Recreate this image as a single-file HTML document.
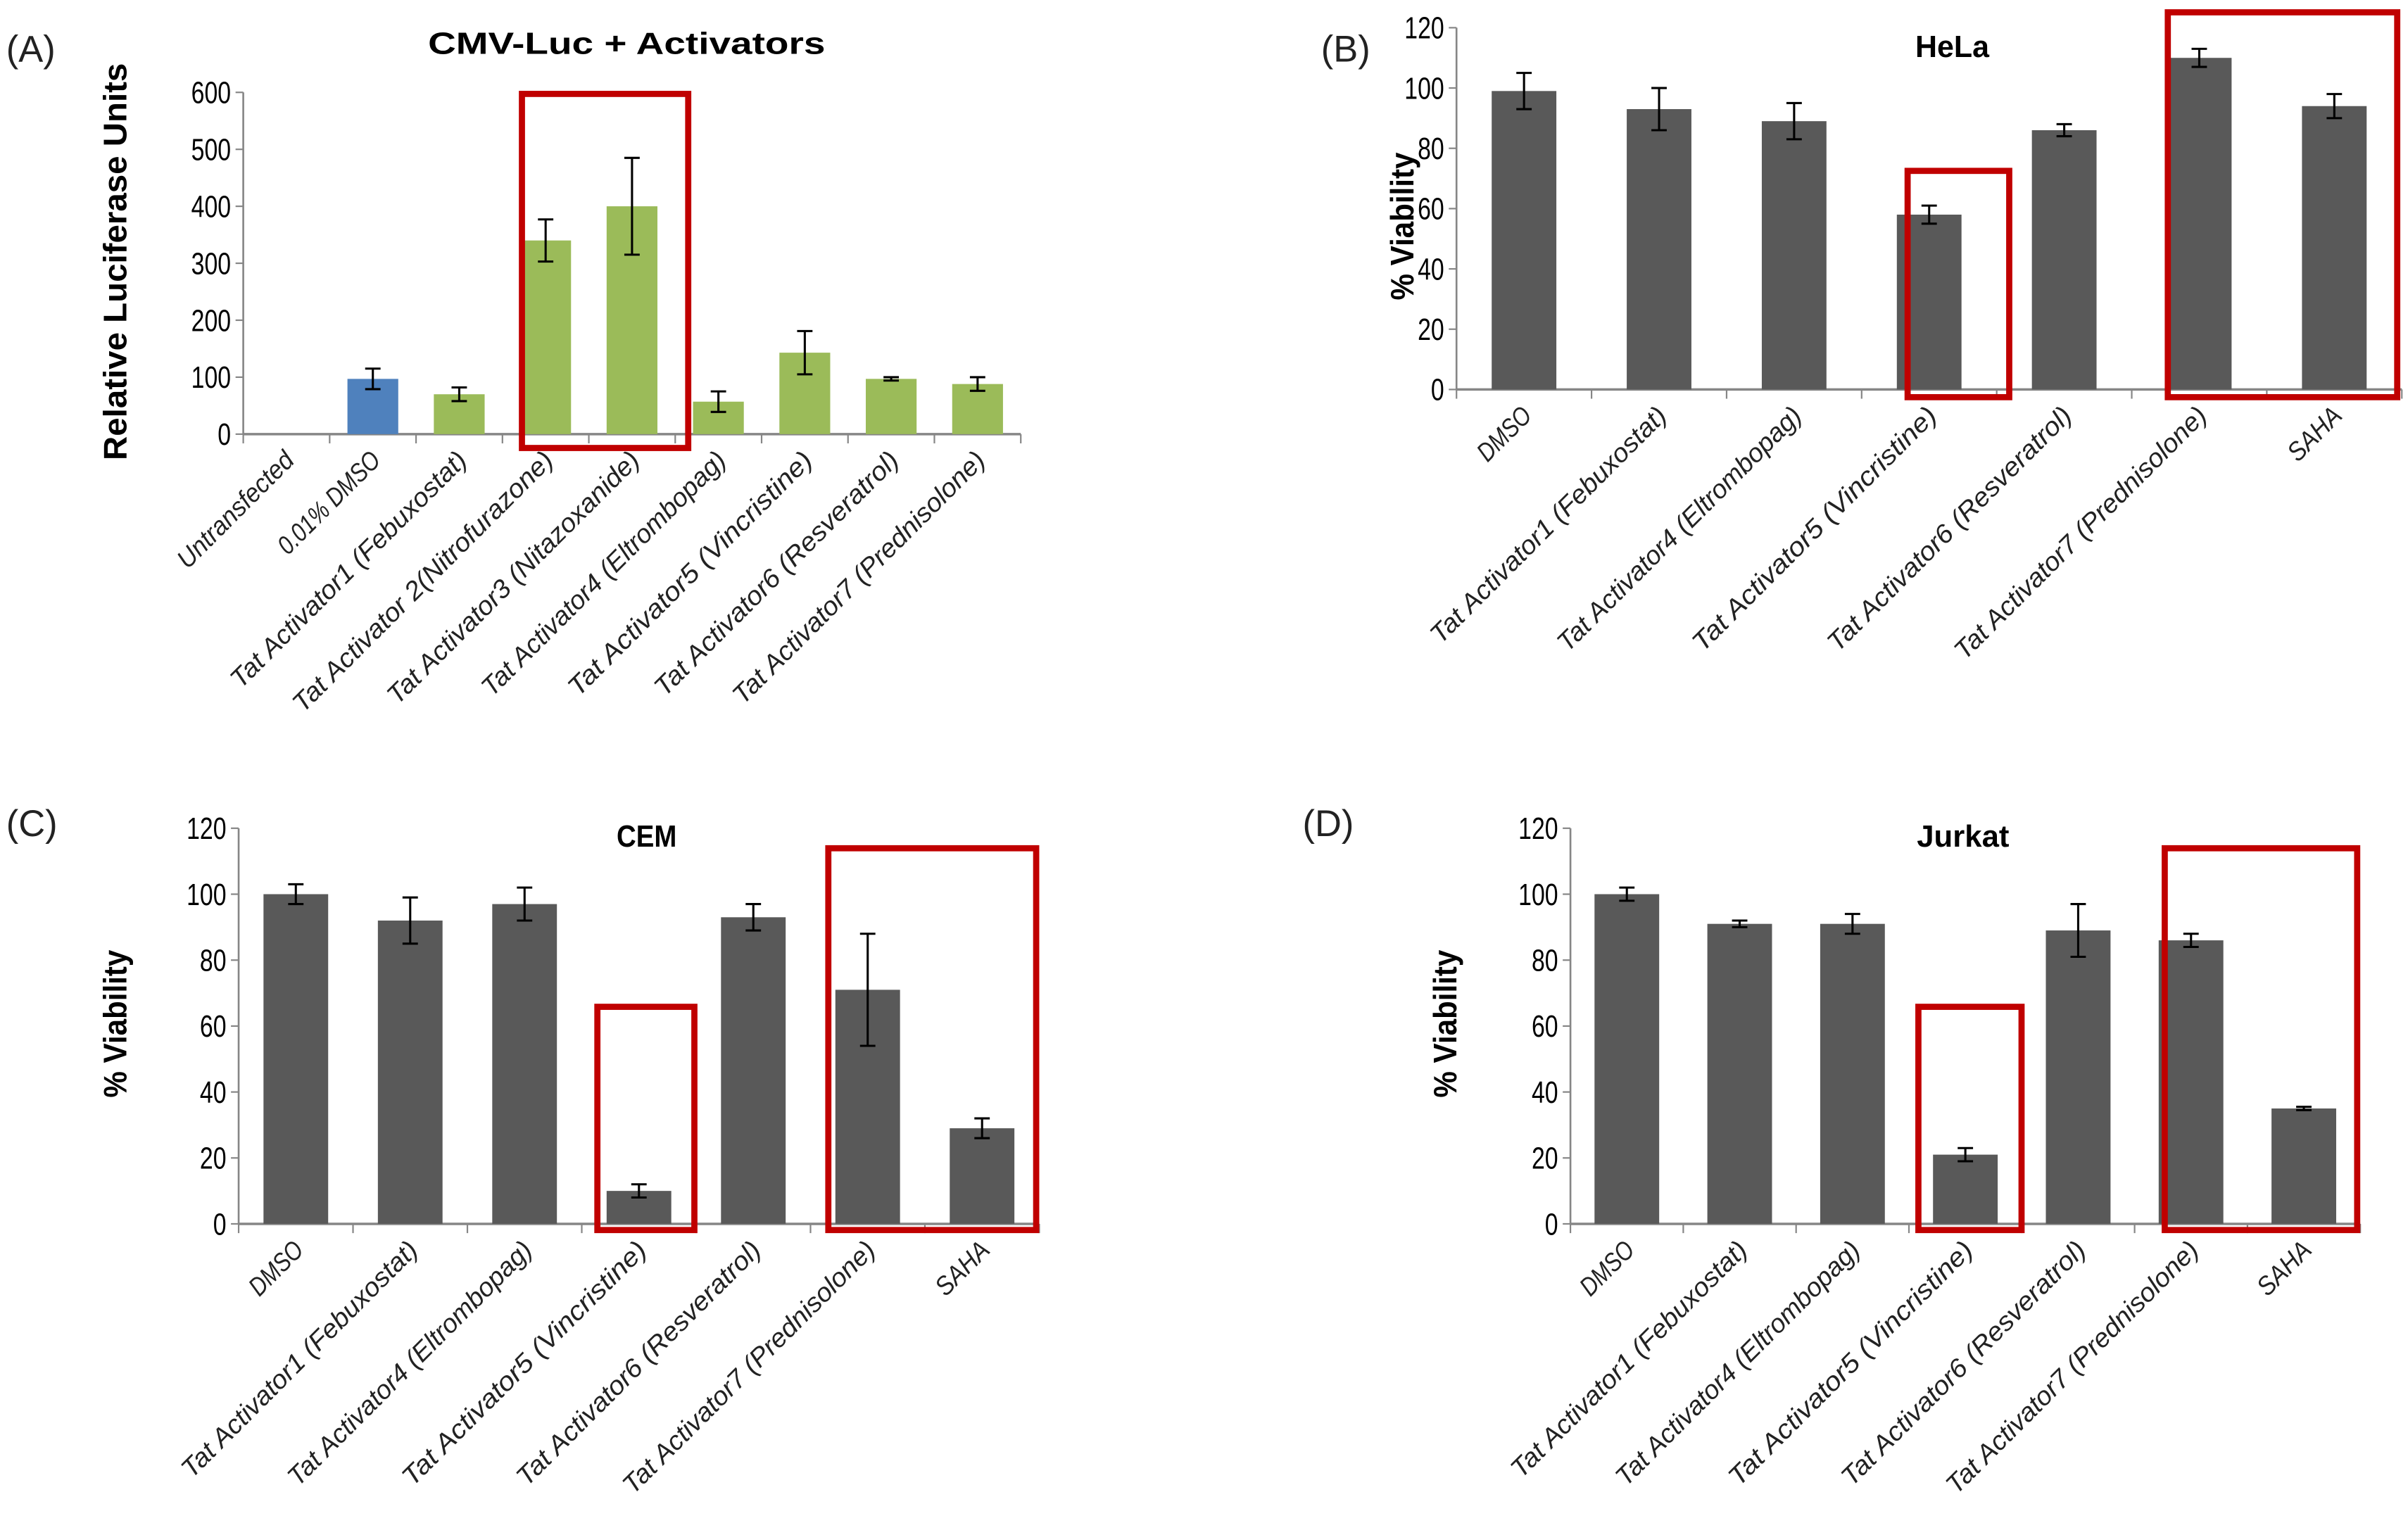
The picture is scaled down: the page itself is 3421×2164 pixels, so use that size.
<!DOCTYPE html>
<html><head><meta charset="utf-8">
<style>
html,body{margin:0;padding:0;background:#fff;}
svg{display:block;}
text{font-family:"Liberation Sans",sans-serif;}
</style></head>
<body>
<svg id="fig" width="3421" height="2164" viewBox="0 0 1564 989.3" preserveAspectRatio="none" xmlns="http://www.w3.org/2000/svg"></svg>
<script>
// Panel A data
const catsA = ["Untransfected","0.01% DMSO","Tat Activator1 (Febuxostat)","Tat Activator 2(Nitrofurazone)","Tat Activator3 (Nitazoxanide)","Tat Activator4 (Eltrombopag)","Tat Activator5 (Vincristine)","Tat Activator6 (Resveratrol)","Tat Activator7 (Prednisolone)"];
const valsA = [0,97,70,340,400,57,143,97,88];
const errA = [0,18,12,37,85,18,38,3,12];
const ticksA = [0,100,200,300,400,500,600];
// Viability panels
const catsV = ["DMSO","Tat Activator1 (Febuxostat)","Tat Activator4 (Eltrombopag)","Tat Activator5 (Vincristine)","Tat Activator6 (Resveratrol)","Tat Activator7 (Prednisolone)","SAHA"];
const valsB = [99,93,89,58,86,110,94];
const errB = [6,7,6,3,2,3,4];
const valsC = [100,92,97,10,93,71,29];
const errC = [3,7,5,2,4,17,3];
const valsD = [100,91,91,21,89,86,35];
const errD = [2,1,3,2,8,2,0.5];
const ticksV = [0,20,40,60,80,100,120];

const NS="http://www.w3.org/2000/svg";
const svg=document.getElementById('fig');
function mk(tag,attrs,parent){const e=document.createElementNS(NS,tag);for(const k in attrs)e.setAttribute(k,attrs[k]);(parent||svg).appendChild(e);return e;}
function labLen(s){let L=0;for(const ch of s){L+=/[A-Z]/.test(ch)?10.5:7.4;}return L;}

function panel(cfg){
  const g=mk('g',{});
  
  
  const {x0,x1,yTop,yBot,max,cats,vals,errs,ticks,bw}=cfg;
  const n=cats.length, band=(x1-x0)/n;
  const ys=v=>yBot-(v/max)*(yBot-yTop);
  const xc=i=>x0+band*(i+0.5);
  const ya=mk('line',{x1:x0,y1:yTop,x2:x0,y2:yBot,stroke:'#868686','stroke-width':1.2},g);
  
  
  const xa=mk('line',{x1:x0,y1:yBot,x2:x1,y2:yBot,stroke:'#868686','stroke-width':1.6},g);
  
  
  ticks.forEach(t=>{
    mk('line',{x1:x0-5,y1:ys(t),x2:x0,y2:ys(t),stroke:'#868686','stroke-width':1},g);
    const s=String(t);
    const tl=mk('text',{x:x0-8,y:ys(t)+7,'text-anchor':'end','font-size':20,fill:'#000',textLength:s.length*8.6,lengthAdjust:'spacingAndGlyphs'},g);
    tl.textContent=s;
    
    
  });
  for(let i=0;i<=n;i++) mk('line',{x1:x0+band*i,y1:yBot,x2:x0+band*i,y2:yBot+6,stroke:'#868686','stroke-width':1},g);
  cats.forEach((c,i)=>{
    const cx=xc(i);
    if(vals[i]>0){
      const b=mk('rect',{x:cx-bw/2,y:ys(vals[i]),width:bw,height:yBot-ys(vals[i]),fill:cfg.colors?cfg.colors[i]:'#595959'},g);
      
      
      const e=errs[i];
      const eg=mk('g',{stroke:'#000','stroke-width':1.4},g);
      
      
      mk('line',{x1:cx,y1:ys(vals[i]+e),x2:cx,y2:ys(vals[i]-e)},eg);
      mk('line',{x1:cx-5,y1:ys(vals[i]+e),x2:cx+5,y2:ys(vals[i]+e)},eg);
      mk('line',{x1:cx-5,y1:ys(vals[i]-e),x2:cx+5,y2:ys(vals[i]-e)},eg);
    }
    const lx=cx+6, ly=yBot+18;
    const t=mk('text',{x:lx,y:ly,'text-anchor':'end','font-size':17,'font-style':'italic',fill:'#222',textLength:labLen(c),lengthAdjust:'spacingAndGlyphs',transform:`rotate(-45 ${lx} ${ly})`},g);
    t.textContent=c;
    
    
  });
  const ti=mk('text',{x:cfg.titleX,y:cfg.titleY,'text-anchor':'middle','font-size':20,'font-weight':'bold',fill:'#000',textLength:cfg.title.length*cfg.titleW,lengthAdjust:'spacingAndGlyphs'},g);
  ti.textContent=cfg.title;
  
  
  const pl=mk('text',{x:cfg.labX,y:cfg.labY,'font-size':24,fill:'#222'},g);
  pl.textContent=cfg.label;
  
  
  const yl=mk('text',{x:cfg.ylX,y:cfg.ylY,'text-anchor':'middle','font-size':cfg.ylSize,'font-weight':'bold',fill:'#000',textLength:cfg.ylLen,lengthAdjust:'spacingAndGlyphs',transform:`rotate(-90 ${cfg.ylX} ${cfg.ylY})`},g);
  yl.textContent=cfg.ylabel;
  
  
  cfg.boxes.forEach(bx=>{
    const r=mk('rect',{x:bx[0],y:bx[1],width:bx[2]-bx[0],height:bx[3]-bx[1],fill:'none',stroke:'#c00000','stroke-width':4},g);
    
    
  });
}
const colA=valsA.map((v,i)=>i===1?'#4f81bd':'#9bbb59');
panel({name:'panel-a-chart',x0:158,x1:663,yTop:60,yBot:282,max:600,cats:catsA,vals:valsA,errs:errA,ticks:ticksA,bw:33,colors:colA,
  title:'CMV-Luc + Activators',titleW:12.9,titleX:407,titleY:35,label:'(A)',labX:4,labY:40,ylabel:'Relative Luciferase Units',ylLen:258,ylX:82,ylY:170,ylSize:21,
  boxes:[[339,61,447,291]]});
panel({name:'panel-b-hela',x0:946,x1:1560,yTop:18,yBot:253,max:120,cats:catsV,vals:valsB,errs:errB,ticks:ticksV,bw:42,
  title:'HeLa',titleW:12,titleX:1268,titleY:37,label:'(B)',labX:858,labY:40,ylabel:'% Viability',ylLen:96,ylX:918,ylY:147,ylSize:21,
  boxes:[[1239,111,1305,258],[1408,8,1557,258]]});
panel({name:'panel-c-cem',x0:155,x1:675,yTop:538,yBot:795,max:120,cats:catsV,vals:valsC,errs:errC,ticks:ticksV,bw:42,
  title:'CEM',titleW:13,titleX:420,titleY:550,label:'(C)',labX:4,labY:543,ylabel:'% Viability',ylLen:96,ylX:82,ylY:665,ylSize:21,
  boxes:[[388,654,451,799],[538,551,673,799]]});
panel({name:'panel-d-jurkat',x0:1020,x1:1533,yTop:538,yBot:795,max:120,cats:catsV,vals:valsD,errs:errD,ticks:ticksV,bw:42,
  title:'Jurkat',titleW:10,titleX:1275,titleY:550,label:'(D)',labX:846,labY:543,ylabel:'% Viability',ylLen:96,ylX:946,ylY:665,ylSize:21,
  boxes:[[1246,654,1313,799],[1406,551,1531,799]]});
</script>
</body></html>
